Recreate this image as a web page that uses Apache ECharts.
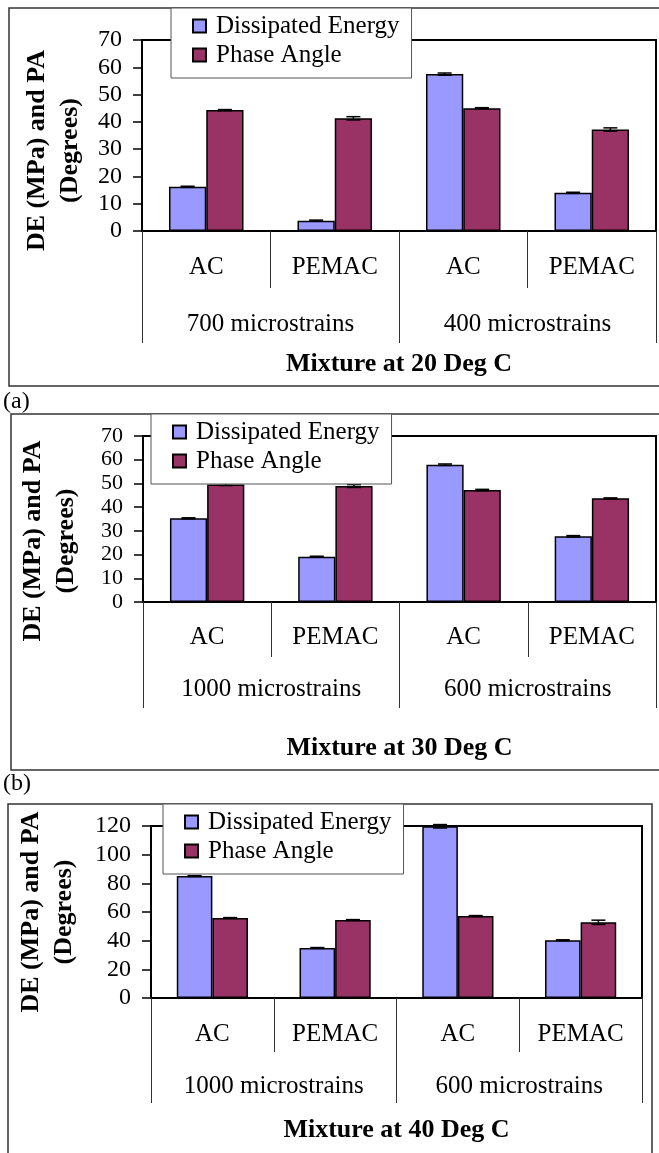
<!DOCTYPE html>
<html>
<head>
<meta charset="UTF-8">
<title>DE and PA</title>
<script src="https://cdn.jsdelivr.net/npm/echarts@6/dist/echarts.min.js"></script>
<style>
    html, body { margin: 0; padding: 0; background: #fff; }
    #chart { width: 659px; height: 1153px; }
</style>
</head>
<body>
<div id="chart"></div>
<script type="text/javascript">
    // values
    var mixes = ['AC', 'PEMAC', 'AC', 'PEMAC'];
    var strains20 = ['700 microstrains', '400 microstrains'];
    var strains30 = ['1000 microstrains', '600 microstrains'];
    var strains40 = ['1000 microstrains', '600 microstrains'];
    var titles = ['Mixture at 20 Deg C', 'Mixture at 30 Deg C', 'Mixture at 40 Deg C'];
    var seriesNames = ['Dissipated Energy', 'Phase Angle'];

    var de20 = [16.2, 3.8, 57.5, 14.0];
    var pa20 = [44.3, 41.3, 45.0, 37.2];
    var de30 = [35.3, 19.1, 57.9, 27.7];
    var pa30 = [49.6, 48.9, 47.2, 43.7];
    var de40 = [85.1, 34.9, 119.8, 40.3];
    var pa40 = [55.8, 54.4, 57.2, 52.8];

    var deErr20 = [0.2, 0.2, 0.4, 0.2];
    var paErr20 = [0.2, 0.6, 0.2, 0.6];
    var deErr30 = [0.2, 0.2, 0.3, 0.3];
    var paErr30 = [0.5, 0.6, 0.3, 0.2];
    var deErr40 = [0.3, 0.3, 1.2, 0.3];
    var paErr40 = [0.3, 0.3, 0.3, 1.5];

    var yMax = [70, 70, 120];
    var yStep = [10, 10, 20];

    var FONT = "'Liberation Serif', 'Times New Roman', serif";
    var DE_COLOR = '#9999ff';
    var PA_COLOR = '#993366';

    // panel placement (pixels)
    var panels = [
        {left: 142, top: 40, width: 514, height: 191, strains: strains20, de: de20, pa: pa20, deErr: deErr20, paErr: paErr20,
            tick1: 57, lab1: 24, tick2: 112, lab2: 81, nameGap: 120, yGap: 54, yPad: 30, yFont: 24,
            legend: {left: 171, top: 8}},
        {left: 143, top: 436, width: 513, height: 166, strains: strains30, de: de30, pa: pa30, deErr: deErr30, paErr: paErr30,
            tick1: 55, lab1: 23, tick2: 106, lab2: 75, nameGap: 133, yGap: 60, yPad: 44, yFont: 22,
            legend: {left: 151, top: 414}},
        {left: 151, top: 826, width: 491, height: 172, strains: strains40, de: de40, pa: pa40, deErr: deErr40, paErr: paErr40,
            tick1: 54, lab1: 24, tick2: 105, lab2: 76, nameGap: 119, yGap: 70, yPad: 0, yFont: 24,
            legend: {left: 163, top: 804}}
    ];

    function errorSeries(gi, vals, errs, side) {
        return {
            type: 'custom',
            name: 'err' + gi + side,
            xAxisIndex: gi * 2,
            yAxisIndex: gi,
            z: 5,
            data: vals.map(function (v, i) { return [i, v, errs[i]]; }),
            renderItem: function (params, api) {
                var i = api.value(0), v = api.value(1), e = api.value(2);
                var band = api.size([1, 0])[0];
                var bw = band * 0.58 / 2;
                var x = api.coord([i, v])[0] + side * bw / 2;
                var hi = api.coord([i, v + e])[1];
                var lo = api.coord([i, v - e])[1];
                var cap = 7;
                var st = {stroke: '#000', lineWidth: 1.5};
                return {
                    type: 'group',
                    children: [
                        {type: 'line', shape: {x1: x, y1: hi, x2: x, y2: lo}, style: st},
                        {type: 'line', shape: {x1: x - cap, y1: hi, x2: x + cap, y2: hi}, style: st},
                        {type: 'line', shape: {x1: x - cap, y1: lo, x2: x + cap, y2: lo}, style: st}
                    ]
                };
            }
        };
    }

    var grids = [], xAxes = [], yAxes = [], series = [], legends = [];

    panels.forEach(function (p, gi) {
        grids.push({
            left: p.left, top: p.top, width: p.width, height: p.height,
            show: true, borderColor: '#000', borderWidth: 2, backgroundColor: 'transparent'
        });
        xAxes.push({
            type: 'category', gridIndex: gi, position: 'bottom', data: mixes,
            axisLine: {show: true, lineStyle: {color: '#000', width: 2}},
            axisTick: {show: true, length: p.tick1, interval: 0, lineStyle: {color: '#333', width: 1}},
            axisLabel: {interval: 0, margin: p.lab1, color: '#000', fontSize: 25, fontFamily: FONT}
        });
        xAxes.push({
            type: 'category', gridIndex: gi, position: 'bottom', data: p.strains,
            axisLine: {show: false},
            axisTick: {show: true, length: p.tick2, interval: 0, lineStyle: {color: '#333', width: 1}},
            axisLabel: {interval: 0, margin: p.lab2, color: '#000', fontSize: 25, fontFamily: FONT},
            name: titles[gi], nameLocation: 'middle', nameGap: p.nameGap,
            nameTextStyle: {color: '#000', fontSize: 26, fontWeight: 'bold', fontFamily: FONT}
        });
        yAxes.push({
            type: 'value', gridIndex: gi, min: 0, max: yMax[gi], interval: yStep[gi],
            splitLine: {show: false},
            axisLine: {show: true, lineStyle: {color: '#000', width: 2}},
            axisTick: {show: true, length: 9, lineStyle: {color: '#000', width: 1.5}},
            axisLabel: {margin: 20, color: '#000', fontSize: p.yFont, lineHeight: 18, fontFamily: FONT,
                showMinLabel: true, showMaxLabel: true, hideOverlap: false},
            name: 'DE (MPa) and PA\n(Degrees)', nameLocation: 'middle', nameGap: p.yGap,
            nameTextStyle: {color: '#000', fontSize: 26, fontWeight: 'bold', fontFamily: FONT,
                lineHeight: 33, padding: [0, p.yPad, 0, 0]}
        });
        series.push({
            type: 'bar', name: seriesNames[0], xAxisIndex: gi * 2, yAxisIndex: gi, data: p.de,
            barGap: '0%', barCategoryGap: '42%',
            itemStyle: {color: DE_COLOR, borderColor: '#000', borderWidth: 1.5}
        });
        series.push({
            type: 'bar', name: seriesNames[1], xAxisIndex: gi * 2, yAxisIndex: gi, data: p.pa,
            barGap: '0%', barCategoryGap: '42%',
            itemStyle: {color: PA_COLOR, borderColor: '#000', borderWidth: 1.5}
        });
        series.push(errorSeries(gi, p.de, p.deErr, -1));
        series.push(errorSeries(gi, p.pa, p.paErr, 1));
        legends.push({
            data: seriesNames, orient: 'vertical', left: p.legend.left, top: p.legend.top,
            icon: 'rect', itemWidth: 13, itemHeight: 13, itemGap: 1,
            padding: [4, 12, 9, 21],
            backgroundColor: '#fff', borderColor: '#555', borderWidth: 1,
            selectedMode: false, z: 10,
            textStyle: {color: '#000', fontSize: 25, fontFamily: FONT, lineHeight: 28, padding: [0, 0, 0, 5]}
        });
    });

    var frameStyle = {fill: 'none', stroke: '#333', lineWidth: 1.5};

    var myChart = echarts.init(document.getElementById('chart'));
    myChart.setOption({
        animation: false,
        backgroundColor: '#fff',
        grid: grids,
        xAxis: xAxes,
        yAxis: yAxes,
        legend: legends,
        series: series,
        graphic: [
            {type: 'rect', shape: {x: 9, y: 8, width: 700, height: 378}, style: frameStyle, z: -1},
            {type: 'rect', shape: {x: 11, y: 414, width: 700, height: 356}, style: frameStyle, z: -1},
            {type: 'rect', shape: {x: 8, y: 804, width: 644, height: 400}, style: frameStyle, z: -1},
            {type: 'text', left: 3, top: 390, style: {text: '(a)', fontSize: 24, fontFamily: FONT, fill: '#000'}},
            {type: 'text', left: 3, top: 772, style: {text: '(b)', fontSize: 24, fontFamily: FONT, fill: '#000'}}
        ]
    });
</script>
</body>
</html>
